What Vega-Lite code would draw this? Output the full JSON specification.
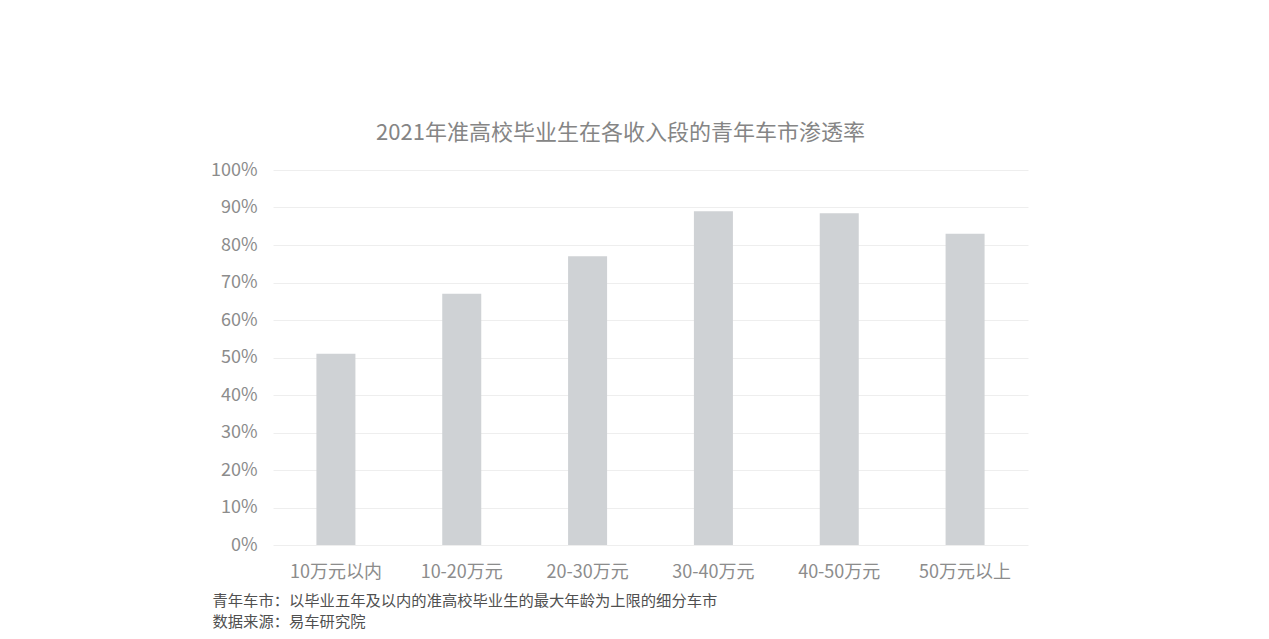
{
  "$schema": "https://vega.github.io/schema/vega-lite/v6.json",
  "width": 755,
  "height": 375,
  "autosize": "none",
  "padding": {"left": 273, "top": 170, "right": 241, "bottom": 94},
  "background": "#ffffff",
  "config": {
    "font": "Noto Sans CJK SC",
    "view": {"stroke": null}
  },
  "title": {
    "text": "2021年准高校毕业生在各收入段的青年车市渗透率",
    "fontSize": 22,
    "fontWeight": "normal",
    "color": "#858585",
    "anchor": "middle",
    "dx": -30,
    "offset": 16
  },
  "data": {
    "values": [
      {"segment": "10万元以内", "rate": 0.51},
      {"segment": "10-20万元", "rate": 0.67},
      {"segment": "20-30万元", "rate": 0.77},
      {"segment": "30-40万元", "rate": 0.89},
      {"segment": "40-50万元", "rate": 0.885},
      {"segment": "50万元以上", "rate": 0.83}
    ]
  },
  "mark": {"type": "bar", "color": "#cfd2d5"},
  "encoding": {
    "x": {
      "field": "segment",
      "type": "nominal",
      "sort": null,
      "scale": {"paddingInner": 0.69, "paddingOuter": 0.345},
      "axis": {
        "title": "青年车市：以毕业五年及以内的准高校毕业生的最大年龄为上限的细分车市",
        "titleAnchor": "start",
        "titleAlign": "left",
        "titleBaseline": "top",
        "titleX": -61,
        "titleY": 48,
        "titleFontSize": 15.3,
        "titleFontWeight": "normal",
        "titleColor": "#505050",
        "labelAngle": 0,
        "labelFontSize": 18,
        "labelColor": "#8c8c8c",
        "labelPadding": 18,
        "domain": false,
        "ticks": false
      }
    },
    "y": {
      "field": "rate",
      "type": "quantitative",
      "scale": {"domain": [0, 1]},
      "axis": {
        "title": "数据来源：易车研究院",
        "titleAngle": 0,
        "titleAnchor": "start",
        "titleAlign": "left",
        "titleBaseline": "top",
        "titleX": -61,
        "titleY": 444,
        "titleFontSize": 15.3,
        "titleFontWeight": "normal",
        "titleColor": "#505050",
        "format": ".0%",
        "values": [0, 0.1, 0.2, 0.3, 0.4, 0.5, 0.6, 0.7, 0.8, 0.9, 1],
        "labelFontSize": 18,
        "labelColor": "#8c8c8c",
        "labelPadding": 16,
        "domain": false,
        "ticks": false,
        "gridColor": "#eeeeee",
        "gridWidth": 1
      }
    }
  }
}
